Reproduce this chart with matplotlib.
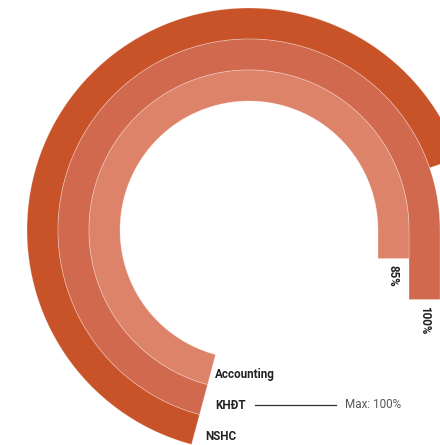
import numpy as np
import matplotlib.pyplot as plt
from matplotlib.patches import Polygon

# completion rates per unit (outer ring first)
units = ["NSHC", "KHĐT", "Accounting"]
rates = [100, 100, 85]
colors = ["#C85329", "#D1694E", "#DD8369"]
max_rate = 100

# ring geometry (drawing units = pixels, origin at ring centre)
r_hole = 129
ring_w = 31
start_deg = 255          # bars start lower-left and run clockwise
axis_floor = 28.7        # rate at which a bar has zero length
px_per_pct = 11.93       # path length per percentage point


def ring_polygon(r_in, r_out, length):
    r_mid = (r_in + r_out) / 2
    t0 = np.radians(start_deg)
    arc_len = r_mid * t0
    if length <= arc_len:
        t = np.linspace(t0, t0 - length / r_mid, 200)
        outer = np.c_[r_out * np.cos(t), r_out * np.sin(t)]
        inner = np.c_[r_in * np.cos(t), r_in * np.sin(t)][::-1]
        return np.vstack([outer, inner]), None
    t = np.linspace(t0, 0, 200)
    drop = length - arc_len
    outer = np.c_[r_out * np.cos(t), r_out * np.sin(t)]
    inner = np.c_[r_in * np.cos(t), r_in * np.sin(t)][::-1]
    pts = np.vstack([outer, [[r_out, -drop], [r_in, -drop]], inner])
    return pts, -drop


fig = plt.figure(figsize=(4.4, 4.45), dpi=100)
ax = fig.add_axes([0, 0, 1, 1])
ax.set_xlim(-249, 191)
ax.set_ylim(-215, 230)
ax.set_aspect("equal")
ax.axis("off")

font = ["Roboto", "DejaVu Sans"]
fs = 8.4
label_x = [-44, -34, -34]

for i, (name, rate, col) in enumerate(zip(units, rates, colors)):
    r_out = r_hole + ring_w * (len(units) - i)
    r_in = r_out - ring_w
    r_mid = (r_in + r_out) / 2
    length = px_per_pct * (rate - axis_floor)
    pts, drop_y = ring_polygon(r_in, r_out, length)
    ax.add_patch(Polygon(pts, closed=True, facecolor=col,
                         edgecolor=(1, 1, 1, 0.3), linewidth=0.6))

    ax.text(label_x[i], -r_mid, name, fontsize=fs, fontweight="bold",
            family=font, color="#222222", ha="left", va="center")

    # value label hangs below the straight tail of the bar
    if drop_y is not None:
        ax.text(r_mid, drop_y - 6, f"{rate}%", fontsize=fs, fontweight="bold",
                family=font, color="#222222", rotation=-90,
                ha="center", va="top")

# max marker next to the middle ring label
ax.plot([6, 87], [-175, -175], color="#333333", linewidth=0.9)
ax.text(96, -175, f"Max: {max_rate}%", fontsize=fs, family=font,
        color="#555555", ha="left", va="center")

fig.savefig("out.png", dpi=100)
